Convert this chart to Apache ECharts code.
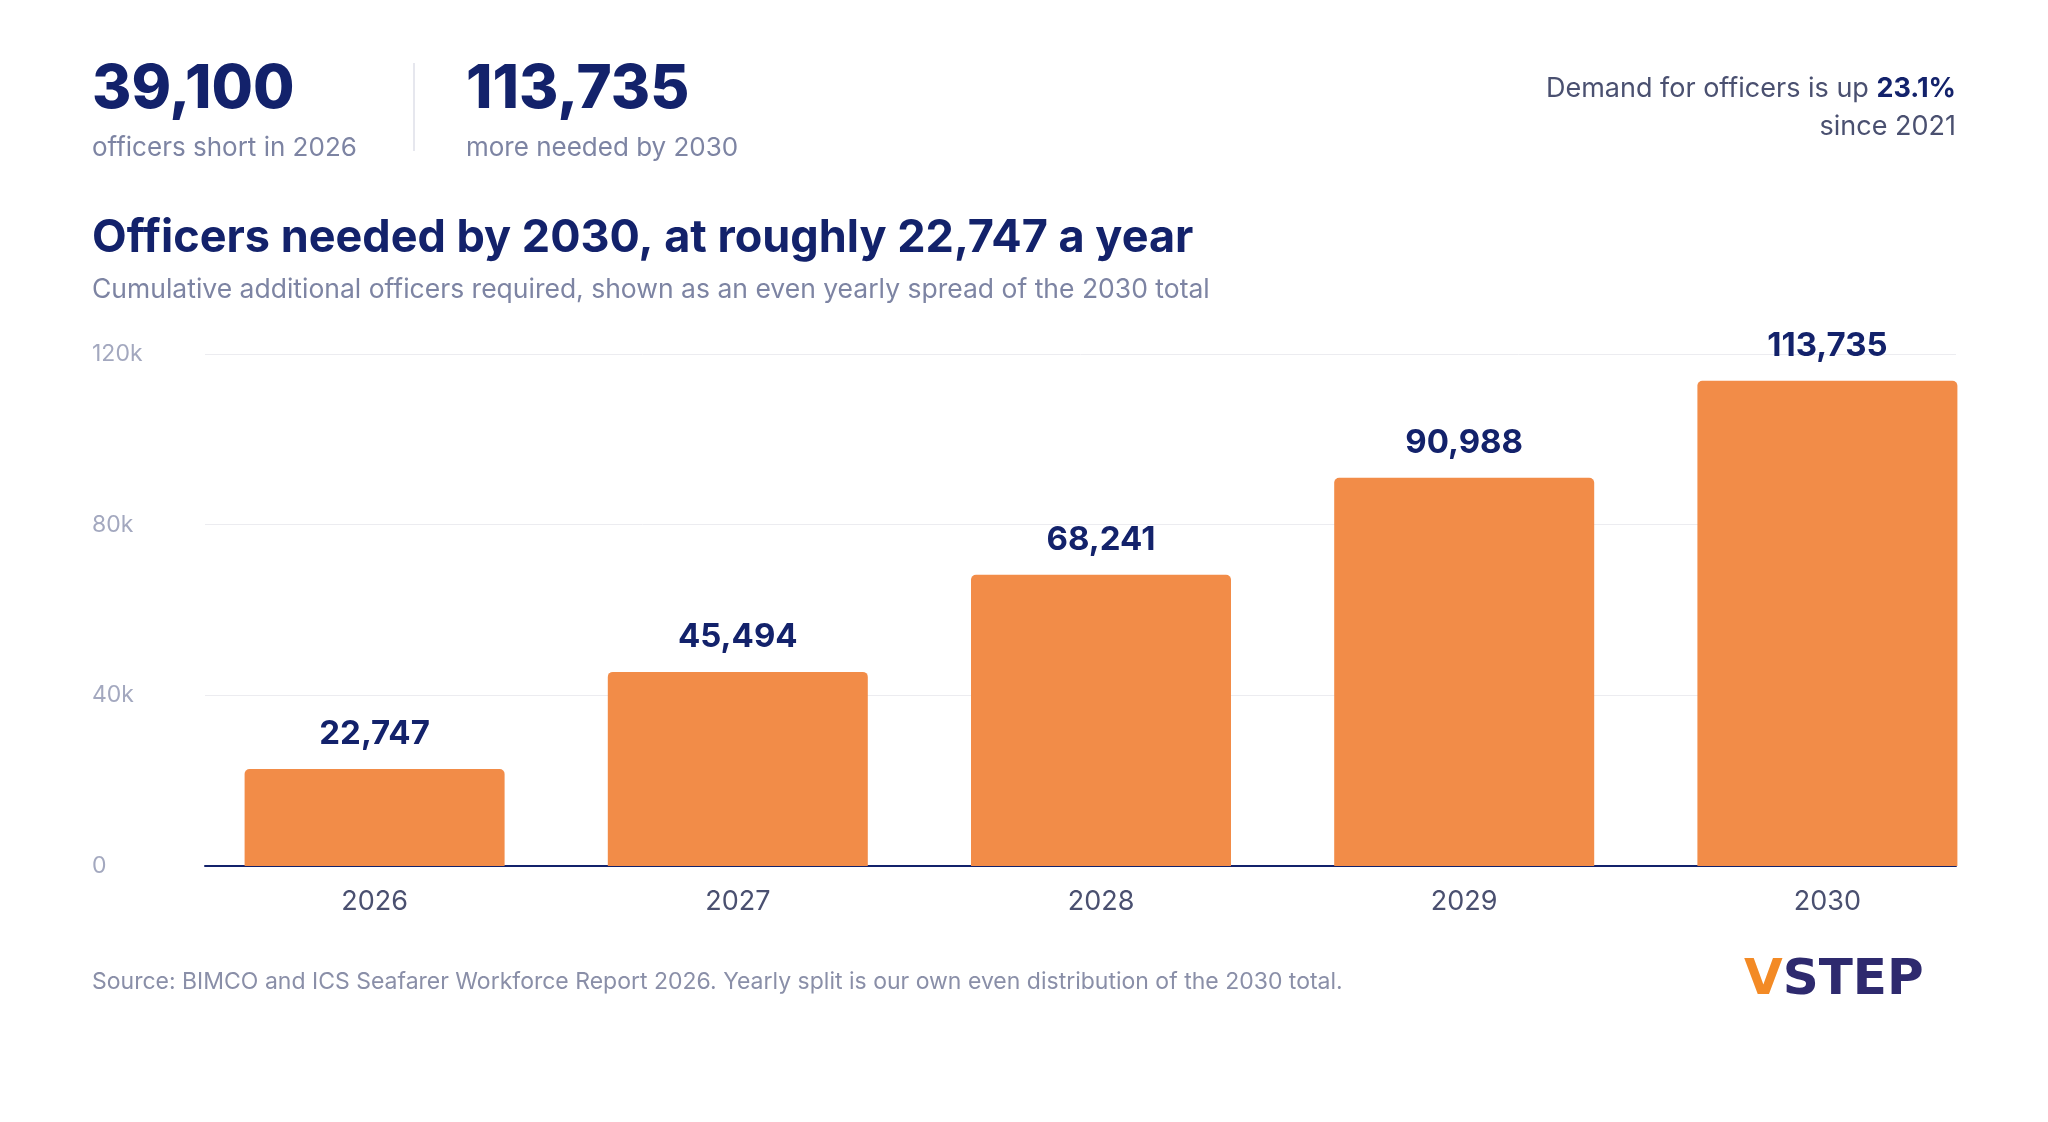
<!DOCTYPE html>
<html>
<head>
<meta charset="utf-8">
<script src="https://cdn.jsdelivr.net/npm/echarts@6/dist/echarts.min.js"></script>
<style>
  html, body { margin: 0; padding: 0; background: #fff; }
  #chart { width: 2048px; height: 1122px; }
</style>
</head>
<body>
<div id="chart"></div>
<script>
var years = ['2026', '2027', '2028', '2029', '2030'];
var officers = [22747, 45494, 68241, 90988, 113735];
var yTicks = [0, 40000, 80000, 120000];

var navy = '#13226b';
var grey = '#7d84a3';
var font = 'Inter';

var myChart = echarts.init(document.getElementById('chart'));

var option = {
    backgroundColor: '#ffffff',
    textStyle: { fontFamily: font },
    grid: [
        { left: 205, right: 92, top: 354, bottom: 256 },
        { left: 193, right: 39, top: 354, bottom: 256 }
    ],
    xAxis: [
        {
            type: 'category', gridIndex: 0, data: years,
            axisTick: { show: false },
            axisLabel: { show: false },
            axisLine: { lineStyle: { color: navy, width: 2 } }
        },
        {
            type: 'category', gridIndex: 1, data: years,
            axisTick: { show: false },
            axisLine: { show: false },
            axisLabel: { color: '#4a5070', fontSize: 27, margin: 22, fontFamily: font }
        }
    ],
    yAxis: [
        {
            type: 'value', gridIndex: 0, min: 0, max: 120000, interval: 40000,
            axisLabel: {
                color: '#a3a8bf', fontSize: 23, align: 'left', margin: 113, fontFamily: font,
                formatter: function (v) { return yTicks.indexOf(v) < 0 ? '' : (v === 0 ? '0' : v / 1000 + 'k'); }
            },
            splitLine: { lineStyle: { color: '#ececf0', width: 1 } }
        },
        {
            type: 'value', gridIndex: 1, min: 0, max: 120000, interval: 40000,
            axisLabel: { show: false }, splitLine: { show: false }
        }
    ],
    series: [{
        type: 'bar',
        xAxisIndex: 1,
        yAxisIndex: 1,
        data: officers,
        barWidth: 260,
        itemStyle: { color: '#f28c48', borderRadius: [5, 5, 0, 0] },
        label: {
            show: true, position: 'top', distance: 18,
            color: navy, fontSize: 33, fontWeight: 'bold', fontFamily: font,
            formatter: function (p) { return p.value.toLocaleString('en-US'); }
        }
    }],
    graphic: [
        { type: 'text', left: 92, top: 60, style: { text: '39,100', fill: navy, font: '800 60px ' + font } },
        { type: 'text', left: 92, top: 135, style: { text: 'officers short in 2026', fill: grey, font: '26px ' + font } },
        { type: 'rect', shape: { x: 413, y: 63, width: 2, height: 88 }, style: { fill: '#e6e7ee' } },
        { type: 'text', left: 466, top: 60, style: { text: '113,735', fill: navy, font: '800 60px ' + font } },
        { type: 'text', left: 466, top: 135, style: { text: 'more needed by 2030', fill: grey, font: '26px ' + font } },
        { type: 'text', right: 92, top: 75, style: {
            text: '{a|Demand for officers is up }{b|23.1%}\n{a|since 2021}', align: 'right',
            rich: {
                a: { fill: '#4a5070', fontSize: 27, fontFamily: font, lineHeight: 38, align: 'right' },
                b: { fill: navy, fontSize: 27, fontWeight: 'bold', fontFamily: font, lineHeight: 38 }
            }
        } },
        { type: 'text', left: 92, top: 216, style: { text: 'Officers needed by 2030, at roughly 22,747 a year', fill: navy, font: 'bold 45px ' + font } },
        { type: 'text', left: 92, top: 277, style: { text: 'Cumulative additional officers required, shown as an even yearly spread of the 2030 total', fill: grey, font: '26.5px ' + font } },
        { type: 'text', left: 92, top: 971, style: { text: 'Source: BIMCO and ICS Seafarer Workforce Report 2026. Yearly split is our own even distribution of the 2030 total.', fill: '#8a8fa8', font: '23px ' + font } },
        { type: 'text', left: 1744, top: 956, style: {
            text: '{v|V}{s|STEP}',
            rich: {
                v: { fill: '#f38a25', fontSize: 50, fontWeight: 900, fontFamily: 'DejaVu Sans' },
                s: { fill: '#2e2a6e', fontSize: 50, fontWeight: 900, fontFamily: 'DejaVu Sans' }
            }
        } }
    ]
};

myChart.setOption(option);
</script>
</body>
</html>
